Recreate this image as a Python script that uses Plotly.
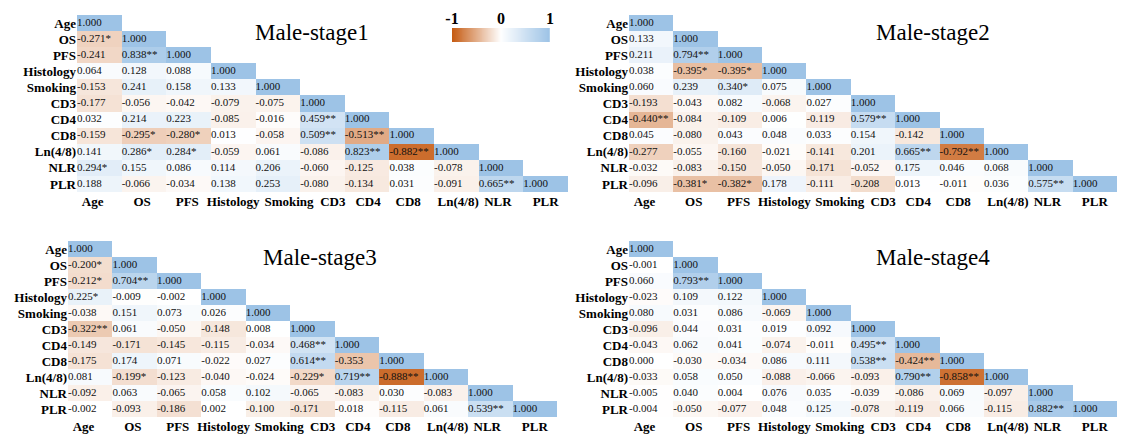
import plotly.graph_objects as go
import numpy as np

LABELS = ["Age", "OS", "PFS", "Histology", "Smoking", "CD3", "CD4", "CD8", "Ln(4/8)", "NLR", "PLR"]

TITLES = ["Male-stage1", "Male-stage2", "Male-stage3", "Male-stage4"]

STAGE1 = [
    ["1.000"],
    ["-0.271*", "1.000"],
    ["-0.241", "0.838**", "1.000"],
    ["0.064", "0.128", "0.088", "1.000"],
    ["-0.153", "0.241", "0.158", "0.133", "1.000"],
    ["-0.177", "-0.056", "-0.042", "-0.079", "-0.075", "1.000"],
    ["0.032", "0.214", "0.223", "-0.085", "-0.016", "0.459**", "1.000"],
    ["-0.159", "-0.295*", "-0.280*", "0.013", "-0.058", "0.509**", "-0.513**", "1.000"],
    ["0.141", "0.286*", "0.284*", "-0.059", "0.061", "-0.086", "0.823**", "-0.882**", "1.000"],
    ["0.294*", "0.155", "0.086", "0.114", "0.206", "-0.060", "-0.125", "0.038", "-0.078", "1.000"],
    ["0.188", "-0.066", "-0.034", "0.138", "0.253", "-0.080", "-0.134", "0.031", "-0.091", "0.665**", "1.000"],
]

STAGE2 = [
    ["1.000"],
    ["0.133", "1.000"],
    ["0.211", "0.794**", "1.000"],
    ["0.038", "-0.395*", "-0.395*", "1.000"],
    ["0.060", "0.239", "0.340*", "0.075", "1.000"],
    ["-0.193", "-0.043", "0.082", "-0.068", "0.027", "1.000"],
    ["-0.440**", "-0.084", "-0.109", "0.006", "-0.119", "0.579**", "1.000"],
    ["0.045", "-0.080", "0.043", "0.048", "0.033", "0.154", "-0.142", "1.000"],
    ["-0.277", "-0.055", "-0.160", "-0.021", "-0.141", "0.201", "0.665**", "-0.792**", "1.000"],
    ["-0.032", "-0.083", "-0.150", "-0.050", "-0.171", "-0.052", "0.175", "0.046", "0.068", "1.000"],
    ["-0.096", "-0.381*", "-0.382*", "0.178", "-0.111", "-0.208", "0.013", "-0.011", "0.036", "0.575**", "1.000"],
]

STAGE3 = [
    ["1.000"],
    ["-0.200*", "1.000"],
    ["-0.212*", "0.704**", "1.000"],
    ["0.225*", "-0.009", "-0.002", "1.000"],
    ["-0.038", "0.151", "0.073", "0.026", "1.000"],
    ["-0.322**", "0.061", "-0.050", "-0.148", "0.008", "1.000"],
    ["-0.149", "-0.171", "-0.145", "-0.115", "-0.034", "0.468**", "1.000"],
    ["-0.175", "0.174", "0.071", "-0.022", "0.027", "0.614**", "-0.353", "1.000"],
    ["0.081", "-0.199*", "-0.123", "-0.040", "-0.024", "-0.229*", "0.719**", "-0.888**", "1.000"],
    ["-0.092", "0.063", "-0.065", "0.058", "0.102", "-0.065", "-0.083", "0.030", "-0.083", "1.000"],
    ["-0.002", "-0.093", "-0.186", "0.002", "-0.100", "-0.171", "-0.018", "-0.115", "0.061", "0.539**", "1.000"],
]

STAGE4 = [
    ["1.000"],
    ["-0.001", "1.000"],
    ["0.060", "0.793**", "1.000"],
    ["-0.023", "0.109", "0.122", "1.000"],
    ["0.080", "0.031", "0.086", "-0.069", "1.000"],
    ["-0.096", "0.044", "0.031", "0.019", "0.092", "1.000"],
    ["-0.043", "0.062", "0.041", "-0.074", "-0.011", "0.495**", "1.000"],
    ["0.000", "-0.030", "-0.034", "0.086", "0.111", "0.538**", "-0.424**", "1.000"],
    ["-0.033", "0.058", "0.050", "-0.088", "-0.066", "-0.093", "0.790**", "-0.858**", "1.000"],
    ["-0.005", "0.040", "0.004", "0.076", "0.035", "-0.039", "-0.086", "0.069", "-0.097", "1.000"],
    ["-0.004", "-0.050", "-0.077", "0.048", "0.125", "-0.078", "-0.119", "0.066", "-0.115", "0.882**", "1.000"],
]

COLORBAR_TICKS = [-1, 0, 1]

PANELS = [STAGE1, STAGE2, STAGE3, STAGE4]

# ---- layout / style (not data) ----
W, H = 1121, 438
# pixel boxes (left, right, top, bottom) for each heatmap
BOXES = [
    (77, 568, 15, 192),
    (629, 1117, 15, 192),
    (68, 557, 241, 417),
    (629, 1117, 241, 417),
]
TITLE_POS = [(312, 33), (933, 33), (320, 257), (933, 257)]
CBAR_BOX = (452, 550, 28, 42)
# the bottom labels sit in their own spreadsheet cells, slightly off the column centres
X_LABEL_NUDGE = [-0.15, -0.04, -0.03, 0.0, 0.25, 0.23, 0.02, -0.08, 0.04, -0.07, 0.0]

COLORSCALE = [[0.0, "#C55A11"], [0.5, "#FFFFFF"], [1.0, "#9DC3E6"]]
SERIF = "Liberation Serif, Times New Roman, DejaVu Serif, serif"

fig = go.Figure()
n = len(LABELS)
idx = list(range(n))
xtickpos = [i + d for i, d in zip(idx, X_LABEL_NUDGE)]

for p, rows in enumerate(PANELS):
    z = [[None] * n for _ in range(n)]
    tx, ty, tt = [], [], []
    for i, row in enumerate(rows):
        for j, s in enumerate(row):
            z[i][j] = float(s.rstrip("*"))
            tx.append(j - 0.5)
            ty.append(i)
            tt.append(s)
    ax = "" if p == 0 else str(p + 1)
    fig.add_trace(go.Heatmap(
        z=z, x=idx, y=idx, colorscale=COLORSCALE, zmin=-1, zmax=1,
        showscale=False, hoverongaps=False, xaxis="x" + ax, yaxis="y" + ax,
    ))
    fig.add_trace(go.Scatter(
        x=tx, y=ty, text=tt, mode="text", textposition="middle right",
        textfont=dict(family=SERIF, size=11, color="#111111"),
        xaxis="x" + ax, yaxis="y" + ax, hoverinfo="skip", showlegend=False,
    ))
    l, r, t, b = BOXES[p]
    axis_common = dict(showgrid=False, zeroline=False, showline=False, ticks="",
                       automargin=False, tickmode="array", ticktext=LABELS,
                       tickfont=dict(family=SERIF, size=13, color="#000000", weight="bold"))
    fig.layout["xaxis" + ax] = dict(domain=[l / W, r / W], range=[-0.5, n - 0.5],
                                    anchor="y" + ax, tickangle=0, tickvals=xtickpos,
                                    **axis_common)
    fig.layout["yaxis" + ax] = dict(domain=[1 - b / H, 1 - t / H], range=[n - 0.5, -0.5],
                                    anchor="x" + ax, tickvals=idx, **axis_common)
    tx0, ty0 = TITLE_POS[p]
    fig.add_annotation(text=TITLES[p], x=tx0 / W, y=1 - ty0 / H, xref="paper", yref="paper",
                       showarrow=False, xanchor="center", yanchor="middle",
                       font=dict(family=SERIF, size=23, color="#000000"))

# colour bar drawn as a small gradient strip on its own axis
ramp = np.linspace(-1, 1, 201)
fig.add_trace(go.Heatmap(z=[ramp], x=ramp, y=[0], colorscale=COLORSCALE, zmin=-1, zmax=1,
                         showscale=False, xaxis="x5", yaxis="y5", hoverinfo="skip"))
cl, cr, ct, cb = CBAR_BOX
fig.layout["xaxis5"] = dict(domain=[cl / W, cr / W], range=[-1, 1], anchor="y5", side="top",
                            showgrid=False, zeroline=False, ticks="", tickmode="array",
                            automargin=False,
                            tickvals=COLORBAR_TICKS, ticktext=[str(v) for v in COLORBAR_TICKS],
                            tickfont=dict(family=SERIF, size=16, color="#000000", weight="bold"))
fig.layout["yaxis5"] = dict(domain=[1 - cb / H, 1 - ct / H], range=[-0.5, 0.5], anchor="x5",
                            automargin=False,
                            showticklabels=False, showgrid=False, zeroline=False)

fig.update_layout(width=W, height=H, margin=dict(l=0, r=0, t=0, b=0),
                  paper_bgcolor="white", plot_bgcolor="white", showlegend=False)

fig.write_html("out.html", config={"displayModeBar": False},
               post_script="document.body.style.margin='0px';document.body.style.overflow='hidden';")
